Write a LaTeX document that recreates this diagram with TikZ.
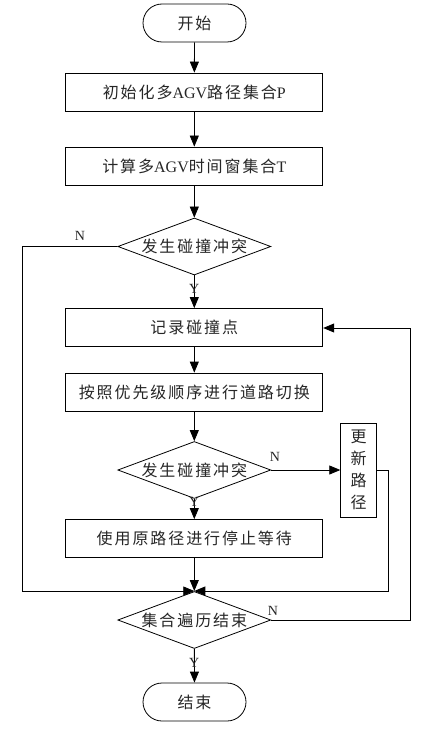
\documentclass[tikz,border=0pt]{standalone}
\usepackage{fontspec}
\setmainfont{Liberation Serif}
\newfontfamily\cjk[LetterSpace=12]{Noto Sans CJK SC}
\usetikzlibrary{shapes.geometric,arrows.meta}
\begin{document}
\begin{tikzpicture}[x=1pt,y=-1pt,
  every node/.style={font=\fontsize{16pt}{18pt}\selectfont\cjk, text=black!85},
  terminal/.style={draw, line width=0.8pt, rounded corners=19pt, minimum width=103pt, minimum height=38pt, inner sep=0pt},
  procbox/.style={draw, line width=0.8pt, minimum width=257pt, minimum height=38pt, inner sep=0pt},
  decision/.style={draw, line width=0.8pt, diamond, aspect=2.7, minimum width=153pt, minimum height=57pt, inner sep=0pt},
  conn/.style={line width=0.8pt, -{Triangle[length=11pt,width=9pt]}},
  plain/.style={line width=0.8pt},
  lbl/.style={font=\fontsize{14pt}{16pt}\selectfont, inner sep=0pt}]
\useasboundingbox (0,0) rectangle (426,730);
\node[terminal] (start) at (194.5,23) {开始};
\node[procbox] (b1) at (194.3,92) {初始化多{\rmfamily AGV}路径集合{\rmfamily P}};
\node[procbox] (b2) at (194.3,166) {计算多{\rmfamily AGV}时间窗集合{\rmfamily T}};
\node[decision] (d1) at (194.3,246.5) {发生碰撞冲突};
\node[procbox] (b3) at (194.3,327.5) {记录碰撞点};
\node[procbox] (b4) at (194.3,392) {按照优先级顺序进行道路切换};
\node[decision] (d2) at (194.3,470) {发生碰撞冲突};
\node[draw, line width=0.8pt, minimum width=36pt, minimum height=94pt, inner sep=0pt, align=center, font=\fontsize{16pt}{22pt}\selectfont\cjk] (up) at (358.7,470) {更\\新\\路\\径};
\node[procbox] (b5) at (194.3,538.5) {使用原路径进行停止等待};
\node[decision] (d3) at (194.3,620) {集合遍历结束};
\node[terminal] (end) at (194.5,702) {结束};
\coordinate (m) at (194.3,591);
\coordinate (l1) at (22,246.5);
\coordinate (l2) at (22,591);
\coordinate (r1) at (388.5,470);
\coordinate (r2) at (388.5,591);
\coordinate (q1) at (410,620);
\coordinate (q2) at (410,328);
\draw[conn] (start) -- (b1);
\draw[conn] (b1) -- (b2);
\draw[conn] (b2) -- (d1);
\draw[conn] (d1) -- (b3);
\draw[conn] (b3) -- (b4);
\draw[conn] (b4) -- (d2);
\draw[conn] (d2) -- (b5);
\draw[conn] (d2.east) -- (up.west);
\draw[conn] (b5) -- (m);
\draw[conn] (d1.west) -- (l1) -- (l2) -- (m);
\draw[conn] (up.east |- r1) -- (r1) -- (r2) -- (m);
\draw[conn] (d3.east) -- (q1) -- (q2) -- (b3.east |- q2);
\draw[conn] (d3) -- (end);
\node[lbl] (n1) at (80,236) {N};
\node[lbl] (y1) at (194.3,289) {Y};
\node[lbl] (n2) at (275,457) {N};
\node[lbl] (y2) at (194.3,502) {Y};
\node[lbl] (n3) at (273,611) {N};
\node[lbl] (y3) at (194.3,663) {Y};
\end{tikzpicture}
\end{document}
